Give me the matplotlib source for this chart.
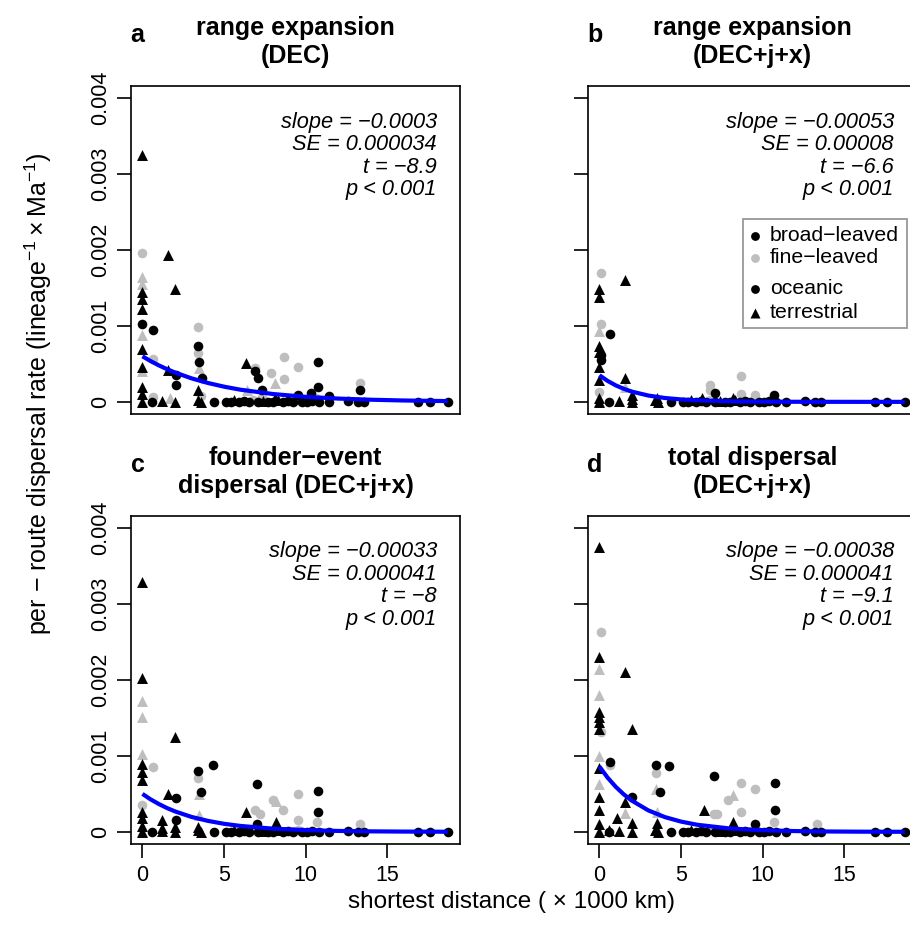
import numpy as np
import matplotlib
matplotlib.use("Agg")
import matplotlib.pyplot as plt
from matplotlib.patches import Rectangle

plt.rcParams['font.family'] = ['Liberation Sans', 'DejaVu Sans']
plt.rcParams['mathtext.fontset'] = 'custom'
plt.rcParams['mathtext.rm'] = 'Liberation Sans'
plt.rcParams['mathtext.it'] = 'Liberation Sans:italic'

# groups: b/f = broad/fine-leaved, o/t = oceanic/terrestrial
# routes sitting on the floor (rate ~ 0) in every panel
floor_dist = [0.0, 0.0, 0.6, 1.2, 2.0, 3.4, 3.6, 4.4, 5.1, 5.4, 5.6, 5.9, 6.2, 6.5, 6.8,
              7.1, 7.4, 7.7, 8.0, 8.3, 8.6, 8.9, 9.2, 9.5, 9.8, 10.1, 10.4, 10.8, 11.4,
              12.6, 13.2, 13.6, 16.9, 17.6, 18.7]
floor_rate = [0.0, 0.00001, 0.0, 0.00001, 0.0, 0.00002, 0.0, 0.0, 0.0, 0.0, 0.00002, 0.0,
              0.00001, 0.0, 0.00002, 0.0, 0.00001, 0.0, 0.0, 0.00002, 0.0, 0.00001, 0.0,
              0.00002, 0.0, 0.0, 0.00001, 0.0, 0.0, 0.00001, 0.0, 0.0, 0.0, 0.0, 0.0]
floor_grp = ['bt', 'ft', 'bo', 'bt', 'bt', 'bt', 'bt', 'bo', 'bo', 'bo', 'bt', 'bo', 'bo',
             'bo', 'fo', 'bo', 'bt', 'bo', 'bo', 'bt', 'bo', 'bo', 'bo', 'fo', 'bo', 'bo',
             'bo', 'bo', 'bo', 'bo', 'bo', 'bo', 'bo', 'bo', 'bo']

# panel a: range expansion (DEC)
a_dist = [0, 0, 1.57, 2.0, 0, 0, 0, 0, 0, 0, 0.65, 0, 0, 0.65, 0, 0, 1.57, 2.05, 2.05, 0, 0,
          0.65, 1.66, 3.43, 3.43, 3.43, 3.45, 3.45, 3.65, 3.4, 3.6, 6.34, 6.9, 6.9, 7.1, 7.35,
          6.4, 7.3, 7.9, 8.1, 8.68, 8.68, 9.5, 8.1, 10.75, 10.75, 10.3, 9.5, 11.4, 13.3, 13.3,
          10.6]
a_rate = [3.25, 1.96, 1.93, 1.48, 1.64, 1.55, 1.45, 1.36, 1.22, 1.03, 0.94, 0.88, 0.70, 0.57,
          0.46, 0.40, 0.42, 0.35, 0.22, 0.20, 0.11, 0.06, 0.05, 0.98, 0.73, 0.65, 0.53, 0.44,
          0.31, 0.15, 0.08, 0.51, 0.44, 0.40, 0.31, 0.15, 0.16, 0.07, 0.38, 0.25, 0.59, 0.30,
          0.46, 0.05, 0.53, 0.20, 0.12, 0.09, 0.08, 0.25, 0.15, 0.05]
a_grp = ['bt', 'fo', 'bt', 'bt', 'ft', 'ft', 'bt', 'bt', 'bt', 'bo', 'bo', 'ft', 'bt', 'fo',
         'bt', 'ft', 'bt', 'bo', 'bo', 'bt', 'bt', 'fo', 'ft', 'fo', 'bo', 'fo', 'bo', 'ft',
         'bo', 'bt', 'fo', 'bt', 'fo', 'bo', 'bo', 'bo', 'ft', 'fo', 'fo', 'ft', 'fo', 'fo',
         'fo', 'bt', 'bo', 'bo', 'bo', 'bo', 'bo', 'fo', 'bo', 'fo']

# panel b: range expansion (DEC+j+x)
b_dist = [0.1, 1.58, 0, 0, 0.1, 0, 0.67, 0, 0, 0.1, 0.1, 0, 0, 0, 0, 1.58, 1.58, 2.0, 2.0,
          3.5, 6.3, 6.8, 6.8, 7.1, 8.7, 8.7, 8.2, 9.5, 10.7]
b_rate = [1.70, 1.61, 1.48, 1.38, 1.02, 0.93, 0.90, 0.73, 0.66, 0.62, 0.55, 0.46, 0.29, 0.13,
          0.05, 0.32, 0.20, 0.04, 0.09, 0.05, 0.05, 0.22, 0.16, 0.12, 0.34, 0.11, 0.05, 0.09,
          0.09]
b_grp = ['fo', 'bt', 'bt', 'bt', 'fo', 'ft', 'bo', 'bt', 'bt', 'bo', 'bo', 'bt', 'bt', 'fo',
         'bt', 'bt', 'ft', 'bt', 'bt', 'bt', 'bt', 'fo', 'fo', 'bo', 'fo', 'fo', 'bt', 'fo',
         'bo']

# panel c: founder-event dispersal (DEC+j+x)
c_dist = [0, 0, 0, 0, 2.0, 0, 0.65, 0, 0, 0, 1.57, 2.05, 0, 0, 0, 0, 1.2, 1.2, 2.0, 2.05,
          3.43, 3.43, 4.3, 3.45, 3.6, 3.45, 3.4, 7.0, 6.9, 7.2, 7.0, 6.34, 8.0, 8.2, 8.6, 9.5,
          9.5, 10.75, 10.75, 10.7, 8.2, 13.3]
c_rate = [3.29, 2.02, 1.73, 1.51, 1.25, 1.02, 0.86, 0.90, 0.79, 0.68, 0.50, 0.45, 0.35, 0.26,
          0.18, 0.08, 0.15, 0.05, 0.07, 0.15, 0.80, 0.71, 0.88, 0.50, 0.52, 0.22, 0.07, 0.63,
          0.29, 0.23, 0.11, 0.26, 0.42, 0.40, 0.29, 0.50, 0.15, 0.54, 0.26, 0.13, 0.13, 0.11]
c_grp = ['bt', 'bt', 'ft', 'ft', 'bt', 'ft', 'fo', 'bt', 'bt', 'bt', 'bt', 'bo', 'fo', 'bt',
         'bt', 'bt', 'bt', 'bt', 'bt', 'bo', 'bo', 'fo', 'bo', 'ft', 'bo', 'ft', 'bt', 'bo',
         'fo', 'fo', 'bo', 'bt', 'fo', 'ft', 'fo', 'fo', 'fo', 'bo', 'bo', 'fo', 'bt', 'fo']

# panel d: total dispersal (DEC+j+x)
d_dist = [0, 0.1, 0, 0, 1.58, 0, 0, 0, 0, 0, 0.1, 2.0, 0, 0.63, 0.65, 0, 0, 0, 0, 0, 2.0,
          1.58, 1.58, 1.1, 2.0, 0.6, 3.48, 3.48, 4.25, 3.48, 3.7, 3.55, 3.5, 7.0, 6.38, 7.0,
          7.2, 8.7, 8.2, 7.9, 9.5, 8.7, 10.75, 10.75, 10.7, 8.2, 9.5, 13.3]
d_rate = [3.75, 2.63, 2.30, 2.15, 2.10, 1.80, 1.58, 1.51, 1.45, 1.36, 1.32, 1.35, 1.00, 0.92,
          0.88, 0.84, 0.63, 0.46, 0.29, 0.10, 0.46, 0.39, 0.25, 0.18, 0.12, 0.03, 0.88, 0.78,
          0.87, 0.56, 0.53, 0.26, 0.12, 0.74, 0.29, 0.24, 0.23, 0.64, 0.49, 0.42, 0.57, 0.26,
          0.65, 0.29, 0.13, 0.13, 0.11, 0.10]
d_grp = ['bt', 'fo', 'bt', 'ft', 'bt', 'ft', 'bt', 'bt', 'bt', 'bt', 'fo', 'bt', 'ft', 'bo',
         'fo', 'bt', 'ft', 'bt', 'bt', 'bt', 'bo', 'bt', 'ft', 'bt', 'bt', 'bt', 'bo', 'fo',
         'bo', 'ft', 'bo', 'ft', 'bt', 'bo', 'bt', 'fo', 'fo', 'fo', 'ft', 'fo', 'fo', 'fo',
         'bo', 'bo', 'fo', 'bt', 'bo', 'fo']

# fitted decay curves, read at these distances
fit_dist = [0, 0.5, 1, 1.5, 2, 3, 4, 5, 6, 8, 10, 12, 14, 16, 18.7]
fit_a = [0.600, 0.537, 0.481, 0.431, 0.386, 0.310, 0.249, 0.200, 0.160, 0.103, 0.066, 0.043,
         0.028, 0.018, 0.010]
fit_b = [0.350, 0.276, 0.217, 0.171, 0.134, 0.083, 0.051, 0.032, 0.020, 0.0075, 0.0029, 0.001,
         0.0004, 0.0, 0.0]
fit_c = [0.500, 0.428, 0.367, 0.314, 0.269, 0.197, 0.145, 0.106, 0.078, 0.042, 0.023, 0.012,
         0.0065, 0.0035, 0.0015]
fit_d = [0.860, 0.714, 0.593, 0.492, 0.409, 0.282, 0.195, 0.135, 0.093, 0.044, 0.021, 0.010,
         0.0048, 0.0023, 0.0008]

titles = ["range expansion\n(DEC)", "range expansion\n(DEC+j+x)",
          "founder\u2212event\ndispersal (DEC+j+x)", "total dispersal\n(DEC+j+x)"]
letters = ["a", "b", "c", "d"]
stats = [["\u22120.0003", "0.000034", "\u22128.9"],
         ["\u22120.00053", "0.00008", "\u22126.6"],
         ["\u22120.00033", "0.000041", "\u22128"],
         ["\u22120.00038", "0.000041", "\u22129.1"]]

panels = [(a_dist, a_rate, a_grp, fit_a), (b_dist, b_rate, b_grp, fit_b),
          (c_dist, c_rate, c_grp, fit_c), (d_dist, d_rate, d_grp, fit_d)]

GRAY = '#BEBEBE'
W, H = 910, 940
# axes boxes in pixels: left, top
boxes = [(131, 86), (588, 86), (131, 516), (588, 516)]
bw, bh = 329, 328

fig = plt.figure(figsize=(9.1, 9.4), dpi=100)

for i, (dist, rate, grp, fit) in enumerate(panels):
    l, t = boxes[i]
    ax = fig.add_axes([l / W, 1 - (t + bh) / H, bw / W, bh / H])
    xs = np.array(floor_dist + dist)
    ys = np.array(floor_rate + [r * 1e-3 for r in rate])
    gs = np.array(floor_grp + grp)
    # fine-leaved (gray) first, broad-leaved (black) on top
    for code, col, mk, s in [('fo', GRAY, 'o', 48), ('ft', GRAY, '^', 62),
                             ('bo', 'black', 'o', 48), ('bt', 'black', '^', 62)]:
        m = gs == code
        ax.scatter(xs[m], ys[m], c=col, marker=mk, s=s, linewidths=0, zorder=2)
    ax.plot(fit_dist, np.array(fit) * 1e-3, color='#0000FF', lw=3.0, zorder=3,
            solid_capstyle='butt')

    ax.set_xlim(-0.7, 19.45)
    ax.set_ylim(-0.00016, 0.00416)
    ax.set_yticks([0, 0.001, 0.002, 0.003, 0.004])
    ax.set_xticks([0, 5, 10, 15])
    for sp in ax.spines.values():
        sp.set_linewidth(1.2)
    ax.tick_params(direction='out', length=10, width=1.2, labelsize=15.5, pad=4)
    ax.tick_params(axis='x', pad=5)
    if i % 2 == 0:
        ax.set_yticklabels(["0", "0.001", "0.002", "0.003", "0.004"], rotation=90,
                           va='center')
    else:
        ax.set_yticklabels([])
    if i < 2:
        ax.tick_params(axis='x', bottom=False, labelbottom=False)
    else:
        ax.set_xticklabels(["0", "5", "10", "15"])

    ax.text(0.5, 1 + 44 / bh, titles[i], transform=ax.transAxes, ha='center',
            va='center', fontsize=18, fontweight='bold', linespacing=1.22)
    ax.text(0.02, 1 + 51 / bh, letters[i], transform=ax.transAxes, ha='center',
            va='center', fontsize=18, fontweight='bold')

    sl, se, tv = stats[i]
    lines = ["slope = " + sl, "SE = " + se, "t = " + tv, "p < 0.001"]
    for j, txt in enumerate(lines):
        ax.text(0.93, 1 - (36 + 22.5 * j) / bh, txt, transform=ax.transAxes, ha='right',
                va='center', fontsize=15.7, fontstyle='italic')

    if i == 1:
        ax.add_patch(Rectangle((0.471, 0.263), 0.499, 0.333, transform=ax.transAxes,
                               facecolor='white', edgecolor='#999999', lw=1.3, zorder=4))
        leg = [('o', 'black', 40, "broad\u2212leaved", 0.544),
               ('o', GRAY, 40, "fine\u2212leaved", 0.477),
               ('o', 'black', 40, "oceanic", 0.382),
               ('^', 'black', 52, "terrestrial", 0.309)]
        for mk, col, s, lab, yy in leg:
            ax.scatter([0.508], [yy], marker=mk, c=col, s=s, linewidths=0,
                       transform=ax.transAxes, zorder=5, clip_on=False)
            ax.text(0.553, yy, lab, transform=ax.transAxes, ha='left', va='center',
                    fontsize=15.3, zorder=5)

fig.text(38 / W, 1 - 394 / H,
         r'per $-$ route dispersal rate (lineage$^{-1}\times$Ma$^{-1}$)',
         rotation=90, ha='center', va='center', fontsize=18)
fig.text(512 / W, 1 - 902 / H, 'shortest distance ( \u00d7 1000 km)',
         ha='center', va='center', fontsize=17.5)

fig.savefig("out.png", dpi=100)
